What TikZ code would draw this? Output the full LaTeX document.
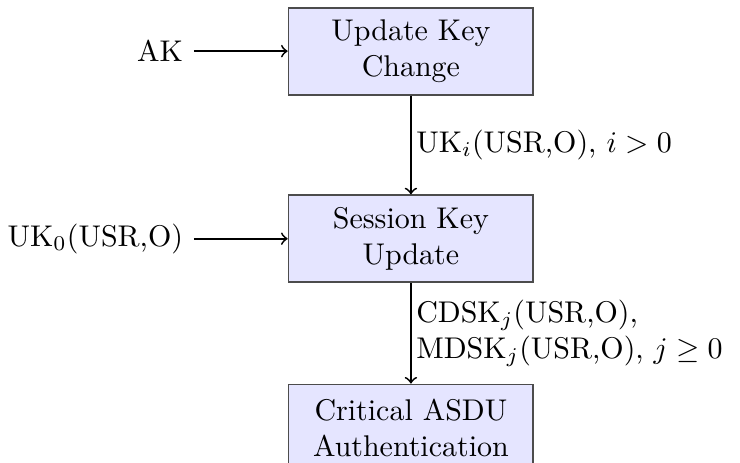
\documentclass[tikz,border=0pt]{standalone}
\usepackage{amsmath}
\usetikzlibrary{positioning}

\tikzset{
  block/.style={draw=black!70, fill=blue!10, minimum width=2.87cm,
    minimum height=1.02cm, align=center, inner sep=2pt},
  flowlabel/.style={right, inner sep=1.5pt, align=left},
  every path/.style={semithick},
}

\begin{document}
\begin{tikzpicture}
      \useasboundingbox (0,0) rectangle (8.68,-5.43);
      % blocks
      \node[block] (ukc) at (4.82,-0.60) {Update Key\\Change};
      \node[block] (sku) at (4.82,-2.80) {Session Key\\Update};
      \node[block] (caa) at (4.82,-5.02) {Critical ASDU\\Authentication};
      % inputs
      \node[left=1.1cm of ukc] (ak) {AK};
      \node[left=1.1cm of sku] (uk0) {UK$_0$(USR,O)};
      \draw[->] (ak) -- (ukc);
      \draw[->] (uk0) -- (sku);
      % flow
      \draw[->] (ukc) -- node[flowlabel] (lbla) {UK$_i$(USR,O), $i>0$} (sku);
      \draw[->] (sku) -- node[flowlabel] (lblb)
        {CDSK$_j$(USR,O),\\MDSK$_j$(USR,O), $j\geq 0$} (caa);
    \end{tikzpicture}
\end{document}
